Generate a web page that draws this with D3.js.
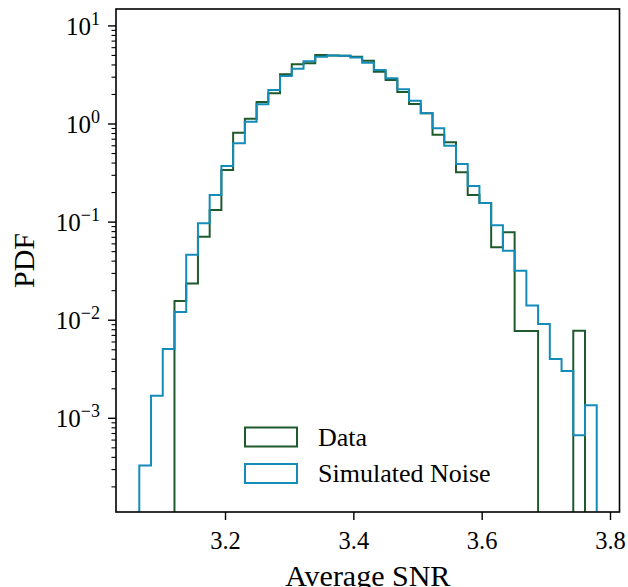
<!DOCTYPE html>
<html>
<head>
<meta charset="utf-8">
<script src="https://cdn.jsdelivr.net/npm/d3@7"></script>
<style>
  html, body { margin: 0; padding: 0; background: #fff; }
  svg { display: block; }
  text { font-family: "Liberation Serif", "DejaVu Serif", serif; fill: #000; }
</style>
</head>
<body>
<svg id="chart" width="628" height="587"></svg>
<script>
// ---- data ----
const binStart = 3.0664;
const binWidth = 0.01828;
const dataValues = [
  0, 0, 0, 0.0157, 0.0236, 0.071, 0.133, 0.34, 0.815, 1.13,
  1.68, 2.06, 3.21, 4.06, 4.16, 5.05, 5.0, 4.97, 4.85, 4.42,
  3.41, 2.81, 2.12, 1.60, 1.29, 0.778, 0.65, 0.322, 0.189, 0.157,
  0.0553, 0.0787, 0.00776, 0.00776, 0, 0, 0, 0.0078, 0
];
const noiseValues = [
  0.00033, 0.0017, 0.00508, 0.0121, 0.0466, 0.0972, 0.189, 0.373, 0.635, 1.055,
  1.59, 2.22, 3.08, 3.66, 4.36, 4.85, 5.0, 4.97, 4.75, 4.22,
  3.55, 2.92, 2.26, 1.73, 1.29, 0.904, 0.601, 0.391, 0.233, 0.157,
  0.0927, 0.0511, 0.032, 0.0141, 0.00915, 0.00402, 0.00303, 0.00067, 0.00136
];
const seriesNames = ["Data", "Simulated Noise"];
const seriesColors = ["#1f5a2d", "#138cba"];
const xTicks = [3.2, 3.4, 3.6, 3.8];
const yMajorExp = [-3, -2, -1, 0, 1];
const xDomain = [3.0301, 3.8148];
const yDomain = [1.109e-4, 14.87];

// ---- layout ----
const svg = d3.select("#chart");
const mL = 116, mR = 619.5, mT = 9, mB = 512;
const x = d3.scaleLinear().domain(xDomain).range([mL, mR]);
const y = d3.scaleLog().domain(yDomain).range([mB, mT]);

svg.append("defs").append("clipPath").attr("id", "clip")
  .append("rect").attr("x", mL).attr("y", mT)
  .attr("width", mR - mL).attr("height", mB - mT);

function stepPoints(vals) {
  const pts = [];
  const yy = v => v > 0 ? y(v) : mB + 5;
  pts.push([x(binStart), mB + 5]);
  vals.forEach((v, i) => {
    const x0 = x(binStart + i * binWidth), x1 = x(binStart + (i + 1) * binWidth);
    pts.push([x0, yy(v)]);
    pts.push([x1, yy(v)]);
  });
  pts.push([x(binStart + vals.length * binWidth), mB + 5]);
  return pts;
}
const line = d3.line();
const g = svg.append("g").attr("clip-path", "url(#clip)");
[dataValues, noiseValues].forEach((vals, k) => {
  g.append("path").attr("d", line(stepPoints(vals)))
    .attr("fill", "none").attr("stroke", seriesColors[k])
    .attr("stroke-width", 2).attr("stroke-linejoin", "miter");
});

// ---- axes ----
const xAxis = d3.axisBottom(x).tickValues(xTicks).tickSize(8).tickPadding(5)
  .tickFormat(d3.format(".1f"));
const gx = svg.append("g").attr("transform", `translate(0,${mB})`).call(xAxis);
gx.select(".domain").remove();
gx.selectAll(".tick line").attr("stroke", "#000").attr("stroke-width", 1.4);
gx.selectAll(".tick text").style("font-family", '"Liberation Serif", serif')
  .style("font-size", "24.5px").attr("y", 37).attr("dy", null);

// y minor ticks
const minor = [];
for (let e = -4; e <= 1; e++) {
  for (let m = 2; m <= 9; m++) {
    const v = m * Math.pow(10, e);
    if (v >= yDomain[0] && v <= yDomain[1]) minor.push(v);
  }
}
const gy = svg.append("g").attr("transform", `translate(${mL},0)`);
gy.selectAll("line.minor").data(minor).join("line")
  .attr("x1", -4.5).attr("x2", 0)
  .attr("y1", d => y(d)).attr("y2", d => y(d))
  .attr("stroke", "#000").attr("stroke-width", 1.1);
gy.selectAll("line.major").data(yMajorExp).join("line")
  .attr("x1", -8).attr("x2", 0)
  .attr("y1", d => y(Math.pow(10, d))).attr("y2", d => y(Math.pow(10, d)))
  .attr("stroke", "#000").attr("stroke-width", 1.4);
const lab = gy.selectAll("text.ylab").data(yMajorExp).join("text")
  .attr("class", "ylab")
  .attr("x", -16).attr("y", d => y(Math.pow(10, d)) + 9)
  .attr("text-anchor", "end")
  .style("font-size", "25px");
lab.append("tspan").text("10");
lab.append("tspan").attr("dy", -10).style("font-size", "18px")
  .text(d => d < 0 ? "\u2212" + Math.abs(d) : String(d));

// frame
svg.append("rect").attr("x", mL).attr("y", mT)
  .attr("width", mR - mL).attr("height", mB - mT)
  .attr("fill", "none").attr("stroke", "#000").attr("stroke-width", 1.6);

// axis labels
svg.append("text").attr("x", (mL + mR) / 2).attr("y", 586)
  .attr("text-anchor", "middle").style("font-size", "30px").text("Average SNR");
svg.append("text").attr("transform", `translate(34,${(mT + mB) / 2}) rotate(-90)`)
  .attr("text-anchor", "middle").style("font-size", "30px").text("PDF");

// legend
const lg = svg.append("g");
seriesNames.forEach((name, k) => {
  const yc = 437 + k * 36.5;
  lg.append("rect").attr("x", 245).attr("y", yc - 9.5).attr("width", 52).attr("height", 19)
    .attr("fill", "none").attr("stroke", seriesColors[k]).attr("stroke-width", 2);
  lg.append("text").attr("x", 318).attr("y", yc + 8.5).style("font-size", "26px").text(name);
});
</script>
</body>
</html>
